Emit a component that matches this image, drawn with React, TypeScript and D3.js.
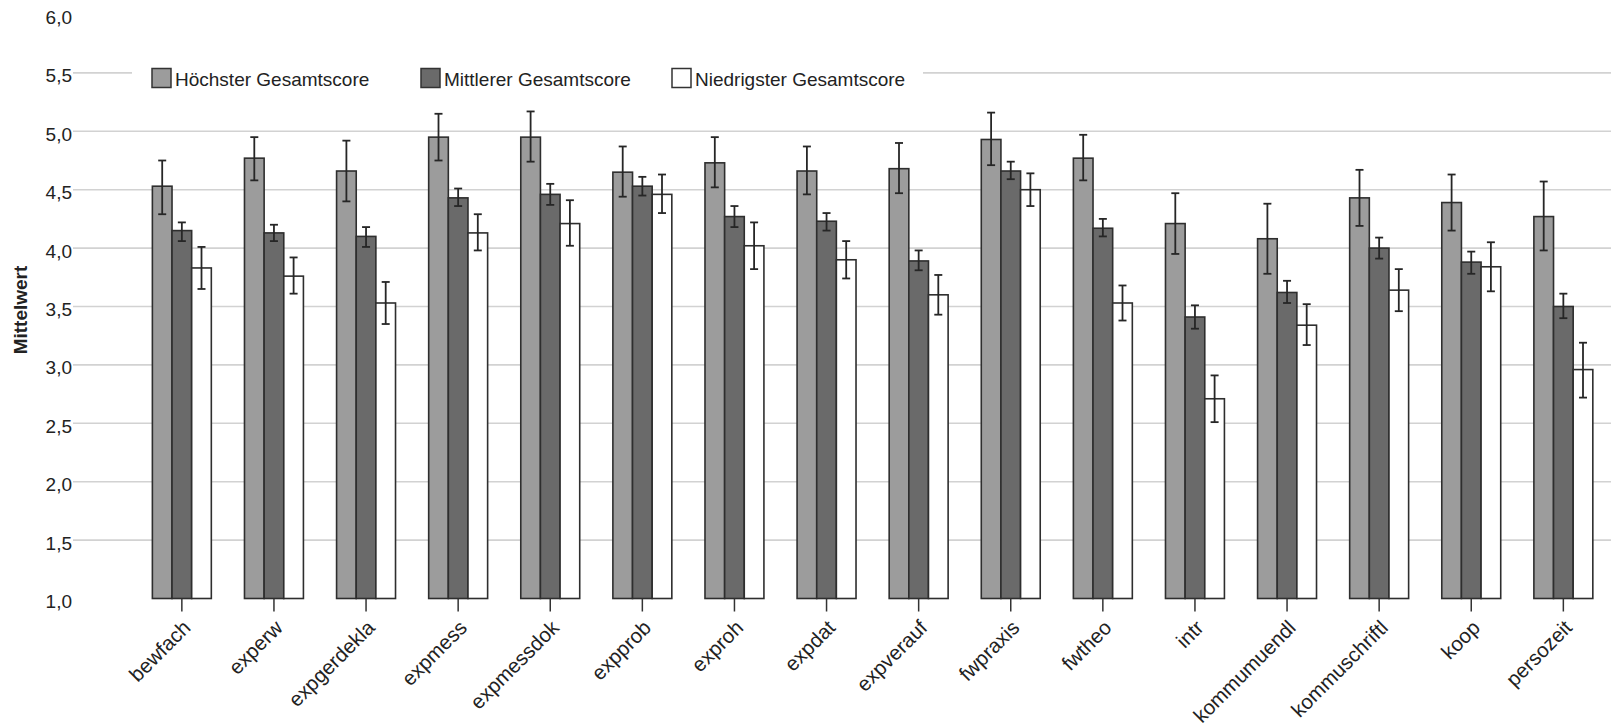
import React from "react";
import * as d3 from "d3";

const categories = ["bewfach","experw","expgerdekla","expmess","expmessdok","expprob","exproh","expdat","expverauf","fwpraxis","fwtheo","intr","kommumuendl","kommuschriftl","koop","persozeit"];

const seriesNames = ["Höchster Gesamtscore","Mittlerer Gesamtscore","Niedrigster Gesamtscore"];
const seriesFills = ["#9c9c9c","#6a6a6a","#ffffff"];

const hoechstMean = [4.53,4.77,4.66,4.95,4.95,4.65,4.73,4.66,4.68,4.93,4.77,4.21,4.08,4.43,4.39,4.27];
const hoechstLow  = [4.29,4.58,4.40,4.75,4.74,4.44,4.52,4.46,4.47,4.71,4.58,3.95,3.78,4.19,4.15,3.98];
const hoechstHigh = [4.75,4.95,4.92,5.15,5.17,4.87,4.95,4.87,4.90,5.16,4.97,4.47,4.38,4.67,4.63,4.57];

const mittelMean = [4.15,4.13,4.10,4.43,4.46,4.53,4.27,4.23,3.89,4.66,4.17,3.41,3.62,4.00,3.88,3.50];
const mittelLow  = [4.06,4.06,4.01,4.36,4.37,4.45,4.18,4.15,3.81,4.59,4.10,3.31,3.53,3.91,3.78,3.40];
const mittelHigh = [4.22,4.20,4.18,4.51,4.55,4.61,4.36,4.30,3.98,4.74,4.25,3.51,3.72,4.09,3.97,3.61];

const niedrigMean = [3.83,3.76,3.53,4.13,4.21,4.46,4.02,3.90,3.60,4.50,3.53,2.71,3.34,3.64,3.84,2.96];
const niedrigLow  = [3.65,3.61,3.35,3.98,4.02,4.30,3.82,3.74,3.43,4.36,3.38,2.51,3.17,3.46,3.63,2.72];
const niedrigHigh = [4.01,3.92,3.71,4.29,4.41,4.63,4.22,4.06,3.77,4.64,3.68,2.91,3.52,3.82,4.05,3.19];

const yTicks = [1.0,1.5,2.0,2.5,3.0,3.5,4.0,4.5,5.0,5.5,6.0];

const means = [hoechstMean, mittelMean, niedrigMean];
const lows = [hoechstLow, mittelLow, niedrigLow];
const highs = [hoechstHigh, mittelHigh, niedrigHigh];

const W = 1611, H = 728;
const FONT = "'Liberation Sans', Arial, sans-serif";

export default function App() {
  const y = d3.scaleLinear().domain([1, 6]).range([598.5, 14.5]);
  const x = d3.scaleBand<string>().domain(categories).range([135.8, 1609.4]).paddingInner(0.36).paddingOuter(0.18);
  const xs = d3.scaleBand<number>().domain([0, 1, 2]).range([0, x.bandwidth()]);
  const fmt = (v: number) => v.toFixed(1).replace(".", ",");
  const gridLeft = 73;
  const legendX = [152, 421, 672];

  return (
    <svg width={W} height={H} style={{ position: "absolute", left: 0, top: 0, background: "#fff" }} fontFamily={FONT}>
      {yTicks.filter(t => t > 1 && t < 6).map(t => (
        <line key={"g" + t} x1={gridLeft} x2={W} y1={y(t)} y2={y(t)} stroke="#d2d2d2" strokeWidth={1.6} />
      ))}
      {yTicks.map(t => (
        <text key={"t" + t} x={72} y={y(t) + 9.5} textAnchor="end" fontSize={19} fill="#222">{fmt(t)}</text>
      ))}
      <text transform={`translate(27,${310}) rotate(-90)`} textAnchor="middle" fontSize={19} fontWeight="bold" fill="#222">Mittelwert</text>

      {/* legend */}
      <rect x={132} y={60} width={923 - 132} height={36} fill="#fff" />
      {seriesNames.map((n, i) => (
        <g key={n}>
          <rect x={legendX[i]} y={68.5} width={19} height={19} fill={seriesFills[i]} stroke="#333" strokeWidth={1.5} />
          <text x={legendX[i] + 23} y={86} fontSize={19} fill="#222">{n}</text>
        </g>
      ))}

      {/* bars */}
      {categories.map((c, ci) => (
        <g key={c} transform={`translate(${x(c)},0)`}>
          {means.map((m, si) => (
            <rect key={si} x={xs(si)} y={y(m[ci])} width={xs.bandwidth()} height={y(1) - y(m[ci])}
              fill={seriesFills[si]} stroke="#2e2e2e" strokeWidth={1.6} />
          ))}
        </g>
      ))}
      {/* error bars */}
      {categories.map((c, ci) => (
        <g key={"e" + c} transform={`translate(${x(c)},0)`}>
          {means.map((_, si) => {
            const cx = (xs(si) as number) + xs.bandwidth() / 2;
            const lo = y(lows[si][ci]), hi = y(highs[si][ci]);
            return (
              <g key={si} stroke="#262626" strokeWidth={1.8}>
                <line x1={cx} x2={cx} y1={lo} y2={hi} />
                <line x1={cx - 4} x2={cx + 4} y1={lo} y2={lo} />
                <line x1={cx - 4} x2={cx + 4} y1={hi} y2={hi} />
              </g>
            );
          })}
        </g>
      ))}
      {/* x ticks and labels */}
      {categories.map(c => {
        const cx = (x(c) as number) + x.bandwidth() / 2;
        return (
          <g key={"x" + c}>
            <line x1={cx} x2={cx} y1={y(1)} y2={y(1) + 13} stroke="#333" strokeWidth={1.5} />
            <text transform={`translate(${cx + 10},${629}) rotate(-45)`} textAnchor="end" fontSize={20.5} fill="#222">{c}</text>
          </g>
        );
      })}
    </svg>
  );
}
